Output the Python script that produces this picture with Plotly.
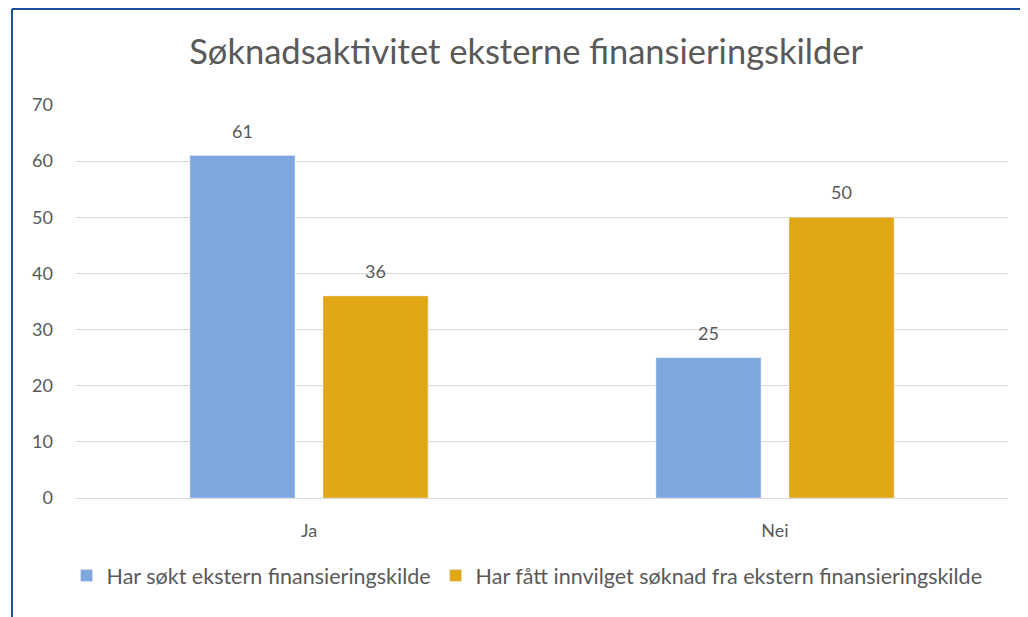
import plotly.graph_objects as go

categories = ["Ja", "Nei"]
sokt = [61, 25]
innvilget = [36, 50]
series_names = [
    "Har søkt ekstern finansieringskilde",
    "Har fått innvilget søknad fra ekstern finansieringskilde",
]
y_ticks = [0, 10, 20, 30, 40, 50, 60, 70]

FONT = "Lato, Carlito, Calibri, sans-serif"
GREY = "#595959"
colors = ["#7EA7E0", "#E2A714"]

fig = go.Figure()
for vals, name, col in zip([sokt, innvilget], series_names, colors):
    fig.add_trace(go.Bar(x=categories, y=vals, name=name, marker_color=col))

# value labels above bars (shifted to each bar of the group)
annotations = []
for vals, shift in zip([sokt, innvilget], [-66.5, 66.5]):
    for cat, v in zip(categories, vals):
        annotations.append(
            dict(x=cat, y=v, text=str(v), showarrow=False, xshift=shift,
                 yshift=25, font=dict(size=18, color=GREY))
        )

fig.update_layout(
    width=1020,
    height=609,
    barmode="group",
    bargap=0.429,
    bargroupgap=0.21,
    paper_bgcolor="white",
    plot_bgcolor="white",
    font=dict(family=FONT, size=18, color=GREY),
    title=dict(
        text="Søknadsaktivitet eksterne finansieringskilder",
        x=0.508,
        xanchor="center",
        y=0.928,
        yanchor="middle",
        font=dict(family=FONT, size=34.5, color=GREY),
    ),
    margin=dict(l=68, r=20, t=97, b=119),
    showlegend=True,
    legend=dict(
        orientation="h",
        x=0.484,
        xanchor="center",
        y=-0.145,
        yanchor="top",
        font=dict(size=21.5, color=GREY),
        itemwidth=30,
        tracegroupgap=0,
    ),
    annotations=annotations,
    shapes=[
        dict(type="line", xref="paper", yref="paper", x0=-0.0687, x1=1.03,
             y0=1.244, y1=1.244, line=dict(color="#1F4E9E", width=2)),
        dict(type="line", xref="paper", yref="paper", x0=-0.0687, x1=-0.0687,
             y0=1.244, y1=-0.31, line=dict(color="#1F4E9E", width=2)),
    ],
)

fig.update_yaxes(
    range=[0, 70],
    tickvals=y_ticks,
    showgrid=True,
    gridcolor="#D9D9D9",
    gridwidth=1,
    zeroline=False,
    showline=False,
    ticks="",
    ticklabelstandoff=22,
    tickfont=dict(size=18, color=GREY),
)
fig.update_xaxes(
    showline=True,
    linecolor="#D9D9D9",
    linewidth=1,
    ticks="",
    ticklabelstandoff=16,
    tickfont=dict(size=18, color=GREY),
)

fig.write_html("out.html")
